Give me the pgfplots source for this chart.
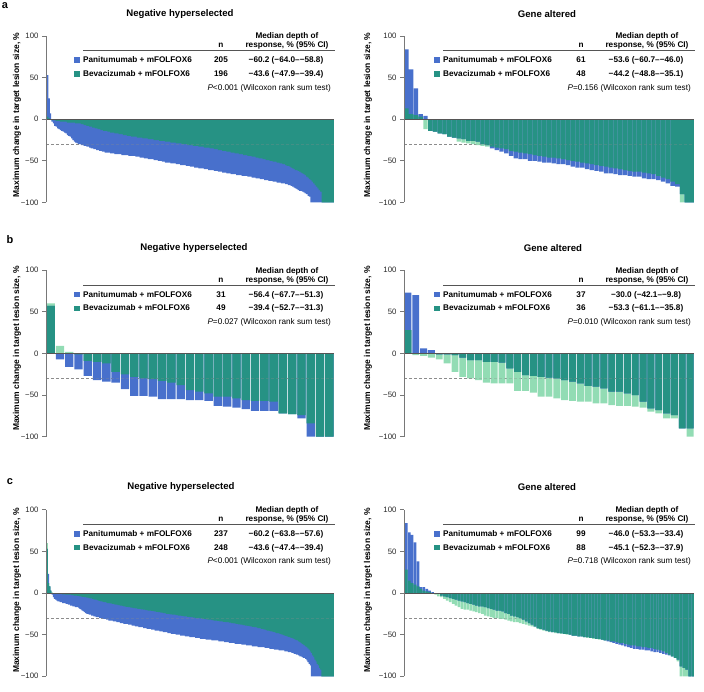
\documentclass[border=0pt]{standalone}
\usepackage{pgfplots}
\pgfplotsset{compat=1.18}
\usepackage{pgfplotstable}
\usepackage{fontspec}
\setmainfont{Liberation Sans}
\definecolor{pblue}{RGB}{72,112,204}
\definecolor{bteal}{RGB}{38,146,132}
\definecolor{lgreen}{RGB}{146,220,180}
\definecolor{axgray}{RGB}{120,120,120}
\definecolor{zgray}{RGB}{85,85,85}
\definecolor{rulegray}{RGB}{85,85,85}
\definecolor{dgray}{RGB}{140,140,140}

\newcommand{\tickfont}{\fontsize{7.8}{9}\selectfont}
\newcommand{\lfb}{\fontsize{8.2}{9.8}\selectfont\bfseries}
\newcommand{\lfr}{\fontsize{8.2}{9.8}\selectfont}
\newcommand{\ttl}{\fontsize{9.6}{11}\selectfont\bfseries}
\newcommand{\ylf}{\fontsize{8.5}{10}\selectfont\bfseries}

\pgfplotsset{wf/.style={scale only axis, height=166.5pt, ymin=-100, ymax=100,
  enlargelimits=false, axis x line=middle, axis y line=left, axis on top,
  xtick=\empty, ytick={-100,-50,0,50,100}, yticklabels={−100,−50,0,50,100},
  tick align=outside, major tick length=4pt,
  x axis line style={-, draw=zgray, line width=1pt},
  y axis line style={-, draw=axgray, line width=0.8pt},
  ytick style={draw=axgray, line width=0.8pt},
  yticklabel style={font=\tickfont, text=black!85}}}

\newcommand{\bars}[2]{%
\addplot[ybar, bar width=#2, bar shift=0pt, fill=lgreen, draw=none] table[x expr=\coordindex+0.5, y=b] {#1};
\addplot[ybar, bar width=#2, bar shift=0pt, fill=pblue, draw=none] table[x expr=\coordindex+0.5, y=p] {#1};
\addplot[ybar, bar width=#2, bar shift=0pt, fill=bteal, draw=none] table[x expr=\coordindex+0.5,
  y expr={ifthenelse((\thisrow{p})*(\thisrow{b})>0, ifthenelse((\thisrow{p})>0, min(\thisrow{p},\thisrow{b}), max(\thisrow{p},\thisrow{b})), 0)}] {#1};
}

% #1 x, #2 y, #3 width, #4 xmin, #5 xmax, #6 table, #7 bar width
\newcommand{\wf}[7]{%
\begin{axis}[wf, at={(#1pt,#2pt)}, anchor=south west, width=#3pt, xmin=#4, xmax=#5]
\draw[dgray, dash pattern=on 3pt off 2pt, line width=0.7pt] (axis cs:#4,-30) -- (axis cs:#5,-30);
\bars{#6}{#7}
\draw[dgray, dash pattern=on 3pt off 2pt, line width=0.7pt, opacity=0.3] (axis cs:#4,-30) -- (axis cs:#5,-30);
\end{axis}}

\newcommand{\legblock}[7]{%
\begin{scope}[shift={(#1pt,#2pt)}, every node/.style={inner sep=0pt}]
\node[font=\lfb, anchor=mid] at (-47pt,0pt) {Median depth of};
\node[font=\lfb, anchor=mid] at (-47pt,-9.3pt) {response, \% (95\% CI)};
\node[font=\lfb, anchor=mid] at (-113pt,-9.3pt) {n};
\draw[rulegray, line width=0.9pt] (-251pt,-14.5pt) -- (1pt,-14.5pt);
\node[font=\lfb, anchor=mid west] at (-259.75pt,-24pt) {\textcolor{pblue}{\rule[-0.2pt]{5.5pt}{5.5pt}}\hspace{3.25pt}Panitumumab + mFOLFOX6};
\node[font=\lfb, anchor=mid] at (-113pt,-24pt) {#3};
\node[font=\lfb, anchor=mid] at (-48pt,-24pt) {#4};
\node[font=\lfb, anchor=mid west] at (-259.75pt,-37.7pt) {\textcolor{bteal}{\rule[-0.2pt]{5.5pt}{5.5pt}}\hspace{3.25pt}Bevacizumab + mFOLFOX6};
\node[font=\lfb, anchor=mid] at (-113pt,-37.7pt) {#5};
\node[font=\lfb, anchor=mid] at (-48pt,-37.7pt) {#6};
\node[font=\lfr, anchor=mid east] at (-3pt,-51.5pt) {\textit{P}#7 (Wilcoxon rank sum test)};
\end{scope}}

% ---------------- panel a, negative hyperselected
\pgfplotstableread[row sep=\\]{p\\
53\\25\\7\\-3\\-5\\-8\\-9\\-11\\-12\\-13\\
-14\\-15\\-16\\-17\\-19\\-20\\-21\\-23\\-25\\-27\\
-28\\-29\\-30\\-30\\-31\\-31\\-32\\-32\\-33\\-33\\
-34\\-35\\-35\\-36\\-36\\-37\\-37\\-38\\-38\\-39\\
-39\\-40\\-40\\-40\\-40\\-41\\-41\\-41\\-42\\-42\\
-42\\-42\\-42\\-43\\-43\\-43\\-43\\-43\\-44\\-44\\
-44\\-44\\-44\\-45\\-45\\-45\\-46\\-46\\-46\\-47\\
-47\\-47\\-48\\-48\\-48\\-48\\-49\\-49\\-49\\-50\\
-50\\-50\\-51\\-51\\-52\\-52\\-52\\-52\\-53\\-53\\
-53\\-53\\-54\\-54\\-54\\-55\\-55\\-55\\-55\\-56\\
-56\\-56\\-57\\-57\\-57\\-58\\-58\\-58\\-59\\-59\\
-59\\-59\\-60\\-60\\-60\\-61\\-61\\-61\\-61\\-62\\
-62\\-62\\-63\\-63\\-63\\-64\\-64\\-64\\-65\\-65\\
-65\\-66\\-66\\-66\\-66\\-67\\-67\\-67\\-67\\-68\\
-68\\-68\\-68\\-69\\-69\\-69\\-70\\-70\\-70\\-71\\
-71\\-71\\-72\\-72\\-72\\-73\\-73\\-73\\-74\\-74\\
-74\\-75\\-75\\-75\\-76\\-76\\-76\\-77\\-77\\-77\\
-78\\-78\\-79\\-79\\-80\\-81\\-82\\-83\\-84\\-85\\
-86\\-86\\-87\\-88\\-89\\-90\\-92\\-93\\-100\\-100\\
-100\\-100\\-100\\-100\\-100\\-100\\-100\\-100\\-100\\-100\\
-100\\-100\\-100\\-100\\-100\\
}\ALp
\pgfplotstableread[row sep=\\]{b\\
3\\1\\0\\-1\\-1\\-1\\-2\\-2\\-2\\-3\\
-3\\-3\\-3\\-3\\-4\\-4\\-4\\-4\\-4\\-4\\
-5\\-5\\-5\\-5\\-6\\-6\\-7\\-7\\-8\\-8\\
-9\\-9\\-10\\-10\\-11\\-11\\-12\\-12\\-13\\-13\\
-14\\-14\\-14\\-15\\-15\\-16\\-16\\-16\\-17\\-17\\
-17\\-18\\-18\\-18\\-19\\-19\\-19\\-20\\-20\\-20\\
-21\\-21\\-21\\-21\\-22\\-22\\-22\\-22\\-23\\-23\\
-23\\-23\\-24\\-24\\-24\\-24\\-25\\-25\\-25\\-25\\
-26\\-26\\-26\\-26\\-27\\-27\\-27\\-27\\-28\\-28\\
-28\\-28\\-29\\-29\\-29\\-29\\-30\\-30\\-30\\-30\\
-31\\-31\\-31\\-31\\-32\\-32\\-32\\-32\\-33\\-33\\
-33\\-33\\-34\\-34\\-34\\-34\\-35\\-35\\-35\\-36\\
-36\\-36\\-37\\-37\\-37\\-38\\-38\\-38\\-39\\-39\\
-39\\-40\\-40\\-40\\-41\\-41\\-41\\-42\\-42\\-42\\
-43\\-43\\-43\\-44\\-44\\-44\\-45\\-45\\-45\\-46\\
-46\\-47\\-47\\-47\\-48\\-48\\-49\\-49\\-49\\-50\\
-50\\-51\\-51\\-51\\-52\\-52\\-53\\-53\\-54\\-54\\
-55\\-56\\-56\\-57\\-58\\-59\\-60\\-61\\-61\\-62\\
-63\\-64\\-65\\-66\\-67\\-69\\-70\\-72\\-73\\-75\\
-77\\-79\\-81\\-83\\-85\\-87\\-100\\-100\\-100\\-100\\
-100\\-100\\-100\\-100\\-100\\
}\ALb
\pgfplotstablecreatecol[create col/copy column from table={\ALb}{b}]{b}{\ALp}

% ---------------- panel a, gene altered
\pgfplotstableread[row sep=\\]{p\\
84\\60\\37\\6\\4\\-14\\-15\\-17\\-18\\-21\\
-22\\-23\\-24\\-26\\-26\\-27\\-30\\-31\\-35\\-37\\
-39\\-41\\-44\\-47\\-48\\-48\\-50\\-50\\-51\\-52\\
-52\\-53\\-54\\-54\\-55\\-57\\-58\\-58\\-60\\-61\\
-62\\-63\\-65\\-65\\-66\\-67\\-67\\-68\\-69\\-69\\
-71\\-72\\-72\\-73\\-75\\-77\\-80\\-81\\-90\\-100\\
-100\\
}\ARp
\pgfplotstableread[row sep=\\]{b\\
13\\6\\5\\3\\-12\\-14\\-15\\-17\\-18\\-21\\
-22\\-27\\-28\\-29\\-30\\-31\\-32\\-33\\-33\\-34\\
-35\\-36\\-38\\-39\\-40\\-41\\-42\\-43\\-44\\-45\\
-46\\-46\\-47\\-48\\-49\\-50\\-51\\-52\\-53\\-54\\
-55\\-56\\-57\\-58\\-59\\-60\\-61\\-62\\-63\\-63\\
-64\\-65\\-66\\-68\\-70\\-72\\-75\\-78\\-100\\-100\\
-100\\
}\ARb
\pgfplotstablecreatecol[create col/copy column from table={\ARb}{b}]{b}{\ARp}

% ---------------- panel b, negative hyperselected
\pgfplotstableread[row sep=\\]{p\\
57\\-7\\-16\\-19\\-27\\-32\\-34\\-35\\-43\\-51\\
-51\\-52\\-55\\-55\\-55\\-56\\-56\\-57\\-63\\-64\\
-65\\-67\\-69\\-69\\-69\\-72\\-73\\-78\\-100\\-100\\
-100\\
}\BLp
\pgfplotstableread[row sep=\\]{b\\
60\\9\\2\\-1\\-9\\-10\\-12\\-22\\-25\\-28\\
-30\\-31\\-33\\-35\\-38\\-44\\-46\\-48\\-52\\-52\\
-54\\-56\\-57\\-57\\-58\\-72\\-73\\-74\\-84\\-100\\
-100\\
}\BLb
\pgfplotstablecreatecol[create col/copy column from table={\BLb}{b}]{b}{\BLp}

% ---------------- panel b, gene altered
\pgfplotstableread[row sep=\\]{p\\
73\\70\\6\\4\\-1\\-1\\-2\\-5\\-8\\-8\\
-10\\-10\\-11\\-18\\-22\\-26\\-27\\-28\\-29\\-30\\
-32\\-34\\-36\\-39\\-40\\-42\\-46\\-46\\-48\\-50\\
-58\\-66\\-68\\-72\\-74\\-90\\-90\\
}\BRp
\pgfplotstableread[row sep=\\]{b\\
28\\-2\\-3\\-5\\-7\\-12\\-22\\-28\\-30\\-32\\
-35\\-36\\-36\\-36\\-45\\-45\\-47\\-52\\-52\\-54\\
-56\\-57\\-58\\-58\\-60\\-60\\-62\\-63\\-63\\-64\\
-65\\-70\\-72\\-78\\-78\\-90\\-100\\
}\BRb
\pgfplotstablecreatecol[create col/copy column from table={\BRb}{b}]{b}{\BRp}

% ---------------- panel c, negative hyperselected
\pgfplotstableread[row sep=\\]{p\\
53\\23\\8\\3\\-2\\-5\\-7\\-8\\-9\\-10\\
-10\\-11\\-11\\-12\\-12\\-12\\-13\\-13\\-14\\-14\\
-15\\-15\\-16\\-16\\-17\\-17\\-17\\-18\\-19\\-20\\
-21\\-22\\-23\\-24\\-25\\-25\\-26\\-26\\-27\\-27\\
-28\\-28\\-29\\-29\\-29\\-30\\-30\\-30\\-31\\-31\\
-31\\-32\\-32\\-33\\-33\\-33\\-33\\-34\\-34\\-34\\
-35\\-35\\-35\\-36\\-36\\-36\\-37\\-37\\-37\\-37\\
-38\\-38\\-38\\-39\\-39\\-39\\-40\\-40\\-40\\-41\\
-41\\-41\\-41\\-42\\-42\\-42\\-43\\-43\\-43\\-43\\
-44\\-44\\-44\\-45\\-45\\-45\\-45\\-46\\-46\\-46\\
-47\\-47\\-47\\-47\\-48\\-48\\-48\\-49\\-49\\-49\\
-49\\-50\\-50\\-50\\-50\\-51\\-51\\-51\\-51\\-52\\
-52\\-52\\-52\\-53\\-53\\-53\\-53\\-53\\-54\\-54\\
-54\\-54\\-55\\-55\\-55\\-55\\-55\\-56\\-56\\-56\\
-56\\-56\\-57\\-57\\-57\\-57\\-57\\-57\\-58\\-58\\
-58\\-58\\-58\\-59\\-59\\-59\\-59\\-60\\-60\\-60\\
-60\\-60\\-61\\-61\\-61\\-61\\-61\\-61\\-62\\-62\\
-62\\-62\\-63\\-63\\-63\\-63\\-63\\-64\\-64\\-64\\
-64\\-64\\-65\\-65\\-65\\-65\\-65\\-65\\-66\\-66\\
-66\\-66\\-67\\-67\\-67\\-67\\-68\\-68\\-68\\-68\\
-69\\-69\\-69\\-69\\-69\\-70\\-70\\-70\\-71\\-71\\
-71\\-72\\-72\\-73\\-73\\-74\\-74\\-75\\-76\\-76\\
-77\\-78\\-78\\-79\\-81\\-83\\-85\\-87\\-100\\-100\\
-100\\-100\\-100\\-100\\-100\\-100\\-100\\-100\\-100\\-100\\
-100\\-100\\-100\\-100\\-100\\-100\\-100\\-100\\
}\CLp
\pgfplotstableread[row sep=\\]{b\\
60\\12\\8\\3\\1\\0\\0\\-0.5\\-0.5\\-1\\
-1\\-1\\-1\\-1.5\\-1.5\\-1.5\\-2\\-2\\-2\\-2\\
-2\\-2.5\\-2.5\\-3\\-3\\-3\\-3.5\\-3.5\\-4\\-4\\
-4.5\\-4.5\\-5\\-5\\-5.5\\-5.5\\-6\\-6.5\\-6.5\\-7\\
-7.5\\-8\\-8\\-8.5\\-9\\-9.5\\-10\\-10\\-10.5\\-11\\
-11\\-11.5\\-12\\-12\\-12.5\\-12.5\\-13\\-13\\-13.5\\-14\\
-14\\-14.5\\-14.5\\-15\\-15\\-15.5\\-16\\-16\\-16.5\\-16.5\\
-17\\-17\\-17.5\\-17.5\\-18\\-18\\-18.5\\-18.5\\-19\\-19\\
-19\\-19.5\\-19.5\\-20\\-20\\-20.5\\-20.5\\-21\\-21\\-21\\
-21.5\\-21.5\\-22\\-22\\-22.5\\-22.5\\-23\\-23\\-23.5\\-23.5\\
-24\\-24\\-24.5\\-25\\-25\\-25\\-25.5\\-25.5\\-26\\-26\\
-26\\-26.5\\-26.5\\-27\\-27\\-27\\-27.5\\-27.5\\-28\\-28\\
-28\\-28.5\\-28.5\\-29\\-29\\-29\\-29.5\\-29.5\\-30\\-30\\
-30\\-30\\-30.5\\-30.5\\-31\\-31\\-31\\-31.5\\-31.5\\-32\\
-32\\-32\\-32.5\\-32.5\\-33\\-33\\-33\\-33.5\\-33.5\\-34\\
-34\\-34\\-34.5\\-34.5\\-35\\-35\\-35\\-35.5\\-35.5\\-36\\
-36\\-36.5\\-36.5\\-37\\-37\\-37.5\\-37.5\\-38\\-38\\-38.5\\
-38.5\\-39\\-39\\-39.5\\-39.5\\-40\\-40\\-40.5\\-40.5\\-41\\
-41\\-41.5\\-42\\-42\\-42.5\\-43\\-43\\-43.5\\-44\\-44.5\\
-45\\-45\\-45.5\\-46\\-46\\-46.5\\-47\\-47.5\\-48\\-48\\
-48.5\\-49\\-49.5\\-50\\-50.5\\-51\\-51.5\\-52\\-52.5\\-53\\
-53.5\\-54\\-54.5\\-55\\-56\\-56.5\\-57\\-58\\-59\\-60\\
-61\\-62\\-63\\-64\\-65\\-66.5\\-68\\-70\\-72\\-75\\
-77\\-80\\-82\\-85\\-87\\-90\\-92\\-100\\-100\\-100\\
-100\\-100\\-100\\-100\\-100\\-100\\-100\\-100\\
}\CLb
\pgfplotstablecreatecol[create col/copy column from table={\CLb}{b}]{b}{\CLp}

% ---------------- panel c, gene altered
\pgfplotstableread[row sep=\\]{p\\
84\\73\\70\\61\\38\\7\\7\\5\\3\\1\\
0\\-1\\-3\\-4\\-5\\-6\\-7\\-8\\-9\\-10\\
-11\\-12\\-13\\-14\\-15\\-16\\-16\\-17\\-18\\-19\\
-20\\-21\\-21\\-22\\-24\\-25\\-27\\-28\\-29\\-30\\
-32\\-34\\-36\\-38\\-40\\-42\\-43\\-44\\-45\\-46\\
-47\\-47\\-48\\-48\\-49\\-49\\-50\\-51\\-51\\-52\\
-52\\-53\\-53\\-54\\-54\\-55\\-55\\-56\\-57\\-58\\
-59\\-60\\-61\\-62\\-63\\-64\\-65\\-66\\-67\\-67\\
-68\\-68\\-69\\-69\\-70\\-71\\-71\\-72\\-73\\-74\\
-75\\-76\\-78\\-80\\-88\\-90\\-92\\-100\\-100\\
}\CRp
\pgfplotstableread[row sep=\\]{b\\
28\\15\\12\\10\\8\\5\\3\\2\\1\\0\\
-2\\-4\\-5\\-7\\-9\\-11\\-13\\-15\\-17\\-19\\
-20\\-20\\-21\\-22\\-23\\-24\\-25\\-27\\-28\\-29\\
-30\\-30\\-31\\-31\\-32\\-33\\-34\\-35\\-35\\-36\\
-37\\-38\\-39\\-40\\-41\\-43\\-44\\-45\\-46\\-47\\
-47\\-48\\-48\\-49\\-49\\-50\\-50\\-51\\-51\\-52\\
-52\\-53\\-54\\-54\\-55\\-55\\-56\\-56\\-57\\-57\\
-58\\-58\\-59\\-60\\-60\\-61\\-62\\-63\\-63\\-64\\
-64\\-65\\-65\\-66\\-66\\-67\\-68\\-69\\-70\\-72\\
-74\\-76\\-78\\-82\\-100\\-100\\-100\\-100\\-100\\
}\CRb
\pgfplotstablecreatecol[create col/copy column from table={\CRb}{b}]{b}{\CRp}

\begin{document}
\begin{tikzpicture}
\path[use as bounding box] (0pt,0pt) rectangle (704pt,692pt);

\wf{46}{489.5}{288}{-0.8}{205}{\ALp}{0.85}
\wf{404}{489.5}{290}{0}{61}{\ARp}{0.9}
\wf{46}{255.3}{288}{0}{31}{\BLp}{0.9}
\wf{404}{255.3}{290}{0}{37}{\BRp}{0.88}
\wf{46}{15.7}{288}{-0.8}{248}{\CLp}{0.85}
\wf{404}{15.7}{290}{-0.3}{99}{\CRp}{0.85}

% panel letters
\node[font=\fontsize{11}{13}\selectfont\bfseries] at (5pt,686pt) {a};
\node[font=\fontsize{11}{13}\selectfont\bfseries] at (10pt,452pt) {b};
\node[font=\fontsize{11}{13}\selectfont\bfseries] at (10pt,210pt) {c};

% titles
\node[font=\ttl] at (180pt,678pt) {Negative hyperselected};
\node[font=\ttl] at (547pt,678pt) {Gene altered};
\node[font=\ttl] at (194pt,444pt) {Negative hyperselected};
\node[font=\ttl] at (553pt,444pt) {Gene altered};
\node[font=\ttl] at (181pt,205pt) {Negative hyperselected};
\node[font=\ttl] at (547pt,205pt) {Gene altered};

% y labels
\foreach \yy in {577,343.5,101.5}{
  \node[font=\ylf, rotate=90] at (17pt,\yy pt) {Maximum change in target lesion size, \%};
  \node[font=\ylf, rotate=90] at (368pt,\yy pt) {Maximum change in target lesion size, \%};
}

% legend tables
\legblock{334}{656}{205}{−60.2 (−64.0–−58.8)}{196}{−43.6 (−47.9–−39.4)}{<0.001}
\legblock{694}{656}{61}{−53.6 (−60.7–−46.0)}{48}{−44.2 (−48.8–−35.1)}{=0.156}
\legblock{334}{421.5}{31}{−56.4 (−67.7–−51.3)}{49}{−39.4 (−52.7–−31.3)}{=0.027}
\legblock{694}{421.5}{37}{−30.0 (−42.1–−9.8)}{36}{−53.3 (−61.1–−35.8)}{=0.010}
\legblock{334}{182.2}{237}{−60.2 (−63.8–−57.6)}{248}{−43.6 (−47.4–−39.4)}{<0.001}
\legblock{694}{182.2}{99}{−46.0 (−53.3–−33.4)}{88}{−45.1 (−52.3–−37.9)}{=0.718}
\end{tikzpicture}
\end{document}
